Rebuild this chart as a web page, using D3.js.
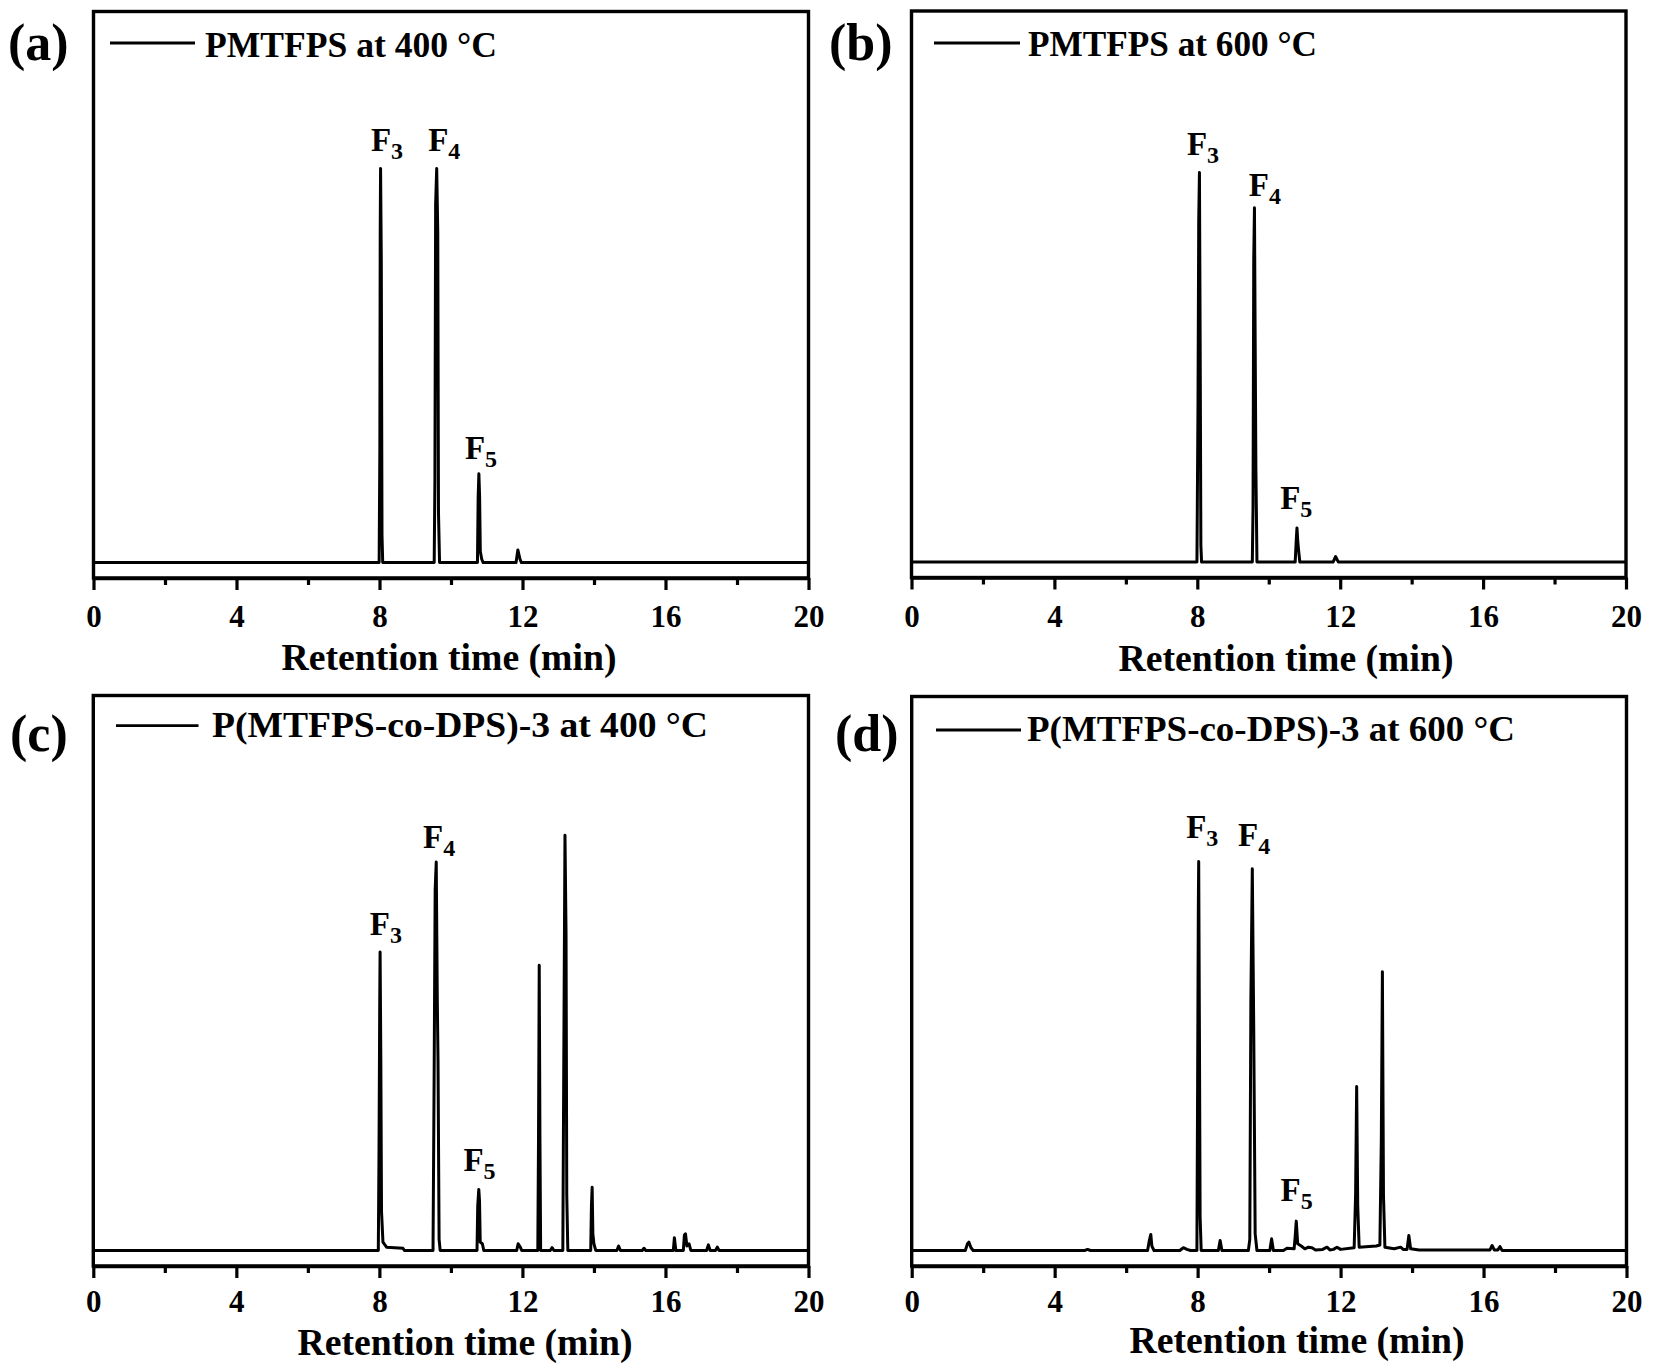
<!DOCTYPE html>
<html>
<head>
<meta charset="utf-8">
<script src="https://cdn.jsdelivr.net/npm/d3@7"></script>
<style>
  html, body { margin: 0; padding: 0; background: #fff; }
  svg { display: block; }
  text { font-family: "Liberation Serif", "Times New Roman", serif; font-weight: bold; fill: #000; }
</style>
</head>
<body>
<svg id="chart" width="1654" height="1363"></svg>
<script>
// ---------------- data ----------------
const xDomain = [0, 20];
const yDomain = [-2.8, 100];
const majorTicks = [0, 4, 8, 12, 16, 20];
const minorTicks = [2, 6, 10, 14, 18];
const xTitle = "Retention time (min)";
const panelLetters = ["(a)", "(b)", "(c)", "(d)"];
const legendLabels = [
  "PMTFPS at 400 \u00B0C",
  "PMTFPS at 600 \u00B0C",
  "P(MTFPS-co-DPS)-3 at 400 \u00B0C",
  "P(MTFPS-co-DPS)-3 at 600 \u00B0C"
];

// chromatogram traces: [retention time (min), relative intensity]
const traceA = [
  [0,0],[7.99,0],[8.01,21],[8.02,60],[8.03,71.5],[8.05,55],[8.07,5],[8.09,0],
  [9.53,0],[9.55,15],[9.57,65],[9.6,71.5],[9.63,60],[9.65,9],[9.68,0],
  [10.74,0],[10.76,12],[10.78,16.1],[10.8,12],[10.82,2],[10.86,0.6],[10.9,0],
  [11.82,0],[11.87,2.3],[11.93,0.6],[11.97,0],
  [20,0]
];
const traceB = [
  [0,0],[7.99,0],[8.02,29],[8.04,62],[8.06,70.7],[8.08,40],[8.1,3],[8.12,0],
  [9.54,0],[9.56,10],[9.58,55],[9.6,64.3],[9.62,40],[9.64,17],[9.67,0],
  [10.74,0],[10.77,4],[10.79,6.2],[10.81,4],[10.83,2.5],[10.87,0],
  [11.8,0],[11.87,1.0],[11.95,0],
  [20,0]
];
const traceC = [
  [0,0],[7.97,0],[7.99,18],[8.01,45],[8.02,53.8],[8.04,35],[8.06,7],[8.1,1.5],[8.2,0.6],[8.66,0.4],[8.7,0],
  [9.5,0],[9.53,30],[9.56,65],[9.59,70],[9.62,45],[9.64,34],[9.67,2],[9.7,0],
  [10.73,0],[10.75,8],[10.78,11],[10.8,9],[10.82,1.5],[10.88,1.2],[10.92,0],
  [11.84,0],[11.88,1.2],[11.94,0.6],[11.98,0],
  [12.43,0],[12.45,20],[12.47,51.4],[12.49,20],[12.51,0],
  [12.78,0],[12.83,0.5],[12.88,0],
  [13.13,0],[13.16,38],[13.19,74.8],[13.22,57],[13.24,10],[13.27,0],
  [13.91,0],[13.93,8],[13.95,11.4],[13.97,3],[14.0,1.2],[14.05,0],
  [14.64,0],[14.69,0.8],[14.74,0],
  [15.35,0],[15.4,0.4],[15.45,0],
  [16.22,0],[16.25,2.3],[16.29,0],
  [16.5,0],[16.53,2.8],[16.56,3.0],[16.6,0.8],[16.66,1.2],[16.71,0],
  [17.15,0],[17.2,1.0],[17.25,0],[17.4,0],[17.45,0.6],[17.5,0],
  [20,0]
];
const traceD = [
  [0,0],[1.5,0],[1.56,1.2],[1.6,1.5],[1.66,0.5],[1.72,0],
  [4.85,0],[4.92,0.2],[5.0,0],
  [6.6,0],[6.64,1.5],[6.69,2.9],[6.72,0.8],[6.78,0],
  [7.5,0],[7.6,0.5],[7.7,0.2],[7.8,0],
  [7.98,0],[8.0,30],[8.02,62],[8.03,70.2],[8.05,40],[8.07,6],[8.1,0],
  [8.58,0],[8.63,1.8],[8.68,0],
  [9.42,0],[9.46,2],[9.49,45],[9.53,68.9],[9.57,40],[9.61,3],[9.66,0],
  [10.02,0],[10.07,2.1],[10.12,0],
  [10.4,0],[10.5,0.4],[10.7,0.3],[10.73,2.5],[10.76,5.3],[10.8,1.2],[10.9,0.8],[11.0,0.3],
  [11.1,0.6],[11.2,0.5],[11.3,0.1],[11.5,0.2],[11.62,0.6],[11.7,0.1],[11.8,0.2],[11.9,0.6],[12.0,0.2],
  [12.38,0.5],[12.42,10],[12.45,29.6],[12.48,8],[12.52,0.6],
  [12.8,0.7],[13.0,0.8],[13.1,1.0],[13.14,20],[13.17,50.3],[13.2,10],[13.24,0.6],
  [13.5,0.3],[13.68,0.6],[13.75,0.2],[13.86,0.2],[13.91,2.7],[13.96,0.3],[14.2,0.1],
  [16.18,0.1],[16.24,0.9],[16.3,0.1],[16.4,0.1],[16.46,0.7],[16.52,0],
  [20,0]
];

// peak labels: main letter, subscript, retention time and intensity of the label baseline
const peakLabelsA = [
  {main:"F", sub:"3", t:8.04, v:74.6},
  {main:"F", sub:"4", t:9.64, v:74.6},
  {main:"F", sub:"5", t:10.67, v:18.8}
];
const peakLabelsB = [
  {main:"F", sub:"3", t:7.99, v:73.8},
  {main:"F", sub:"4", t:9.72, v:66.5},
  {main:"F", sub:"5", t:10.6, v:9.6}
];
const peakLabelsC = [
  {main:"F", sub:"3", t:8.01, v:56.9},
  {main:"F", sub:"4", t:9.5, v:72.6},
  {main:"F", sub:"5", t:10.63, v:14.3}
];
const peakLabelsD = [
  {main:"F", sub:"3", t:7.96, v:74.4},
  {main:"F", sub:"4", t:9.41, v:73.0},
  {main:"F", sub:"5", t:10.6, v:9.0}
];

const traces = [traceA, traceB, traceC, traceD];
const peakLabels = [peakLabelsA, peakLabelsB, peakLabelsC, peakLabelsD];

// ---------------- layout ----------------
const layout = [
  {x0:93.5, x1:808.5, y0:11.5, y1:578, letterX:8, letterY:60,
   legX0:110, legX1:195, legY:43, legTX:205, legTY:56.5, legLen:292,
   tickLabY:49, titleX:449, titleY:670},
  {x0:911.5, x1:1626, y0:11, y1:577.5, letterX:829, letterY:60,
   legX0:934, legX1:1020, legY:43, legTX:1028, legTY:56, legLen:289,
   tickLabY:49, titleX:1286, titleY:671},
  {x0:93.3, x1:808.5, y0:695.5, y1:1266, letterX:10, letterY:751,
   legX0:116, legX1:198.5, legY:725.7, legTX:212, legTY:737, legLen:496,
   tickLabY:45.5, titleX:465, titleY:1355},
  {x0:911.7, x1:1626.5, y0:696.5, y1:1266, letterX:835, letterY:751,
   legX0:936, legX1:1021, legY:730, legTX:1027, legTY:741, legLen:488,
   tickLabY:45.5, titleX:1297, titleY:1353}
];

const svg = d3.select("#chart");
svg.append("rect").attr("width", 1654).attr("height", 1363).attr("fill", "#fff");

layout.forEach((L, i) => {
  const x = d3.scaleLinear().domain(xDomain).range([L.x0, L.x1]);
  const y = d3.scaleLinear().domain(yDomain).range([L.y1, L.y0]);
  const g = svg.append("g");

  // trace
  const line = d3.line().x(d => x(d[0])).y(d => y(d[1]));
  g.append("path").datum(traces[i])
    .attr("d", line)
    .attr("fill", "none")
    .attr("stroke", "#000")
    .attr("stroke-width", 3)
    .attr("stroke-linejoin", "round");

  // frame
  g.append("rect")
    .attr("x", L.x0).attr("y", L.y0)
    .attr("width", L.x1 - L.x0).attr("height", L.y1 - L.y0)
    .attr("fill", "none").attr("stroke", "#000").attr("stroke-width", 3.4);

  // minor ticks
  const minorAxis = d3.axisBottom(x).tickValues(minorTicks).tickSize(7).tickSizeOuter(0).tickFormat("");
  const gm = g.append("g").attr("transform", `translate(0,${L.y1})`).call(minorAxis);
  gm.select(".domain").remove();
  gm.selectAll(".tick line").attr("stroke", "#000").attr("stroke-width", 3.2);

  // major ticks + labels
  const axis = d3.axisBottom(x).tickValues(majorTicks).tickSize(12).tickSizeOuter(0).tickFormat(d3.format("d"));
  const ga = g.append("g").attr("transform", `translate(0,${L.y1})`).call(axis);
  ga.select(".domain").attr("stroke", "#000").attr("stroke-width", 3.4);
  ga.selectAll(".tick line").attr("stroke", "#000").attr("stroke-width", 3.2);
  ga.selectAll(".tick text")
    .attr("y", L.tickLabY).attr("dy", 0)
    .style("font-family", '"Liberation Serif", "Times New Roman", serif')
    .style("font-weight", "bold")
    .style("font-size", "31px")
    .attr("fill", "#000");

  // axis title
  g.append("text")
    .attr("x", L.titleX).attr("y", L.titleY)
    .attr("text-anchor", "middle")
    .attr("textLength", 335).attr("lengthAdjust", "spacingAndGlyphs")
    .style("font-size", "37px")
    .text(xTitle);

  // panel letter
  g.append("text")
    .attr("x", L.letterX).attr("y", L.letterY)
    .style("font-size", "52px")
    .text(panelLetters[i]);

  // legend
  g.append("line")
    .attr("x1", L.legX0).attr("x2", L.legX1)
    .attr("y1", L.legY).attr("y2", L.legY)
    .attr("stroke", "#000").attr("stroke-width", 2.8);
  g.append("text")
    .attr("x", L.legTX).attr("y", L.legTY)
    .attr("textLength", L.legLen).attr("lengthAdjust", "spacingAndGlyphs")
    .style("font-size", "36px")
    .text(legendLabels[i]);

  // peak labels
  peakLabels[i].forEach(p => {
    const t = g.append("text")
      .attr("x", x(p.t) - 10)
      .attr("y", y(p.v))
      .style("font-size", "33px");
    t.append("tspan").text(p.main);
    t.append("tspan").attr("dy", 8).style("font-size", "24px").text(p.sub);
  });
});
</script>
</body>
</html>
